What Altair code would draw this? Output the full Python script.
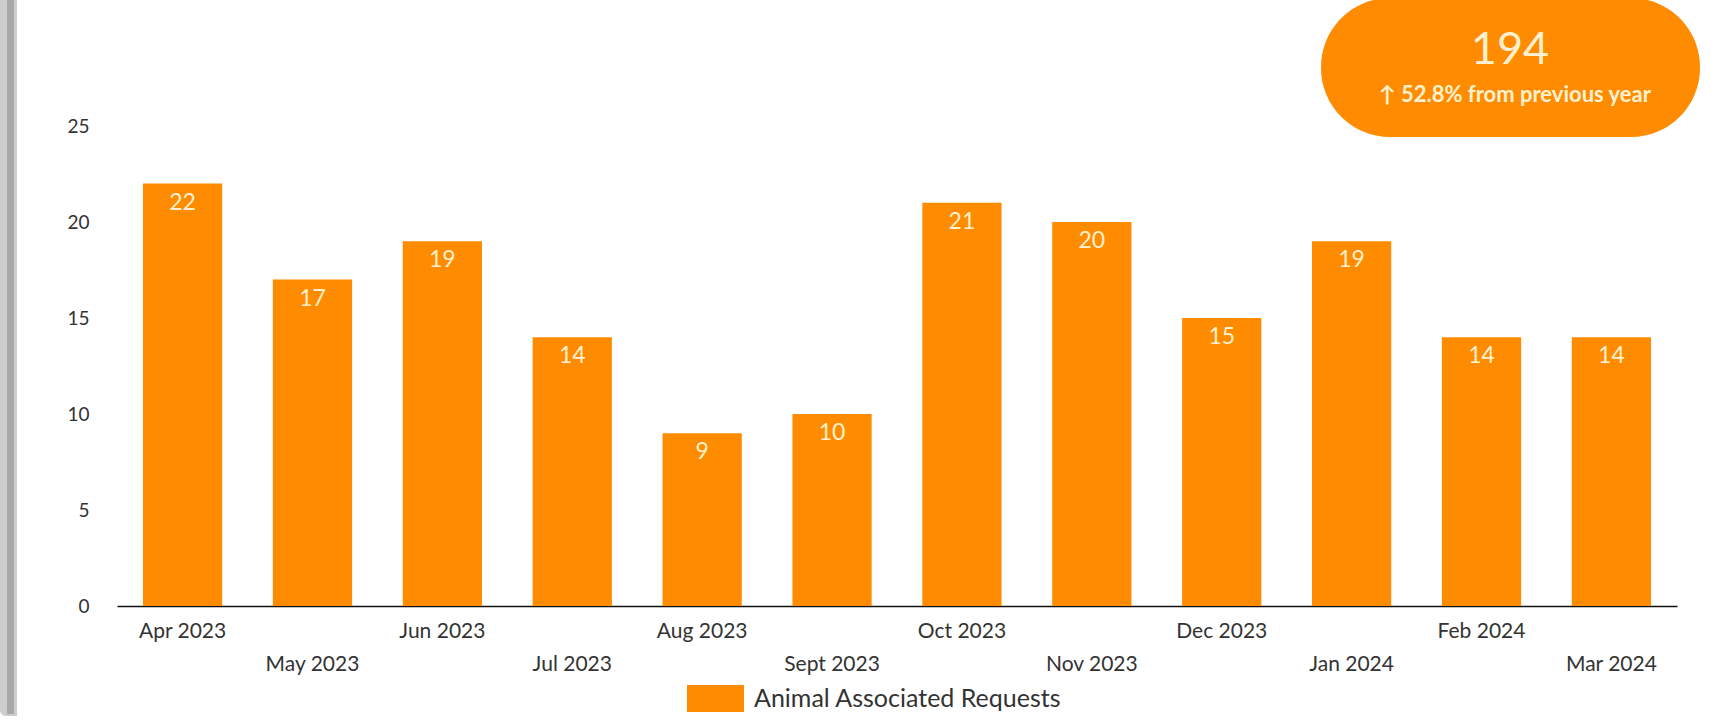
import altair as alt
import pandas as pd

months = ["Apr 2023", "May 2023", "Jun 2023", "Jul 2023", "Aug 2023", "Sept 2023",
          "Oct 2023", "Nov 2023", "Dec 2023", "Jan 2024", "Feb 2024", "Mar 2024"]
requests = [22, 17, 19, 14, 9, 10, 21, 20, 15, 19, 14, 14]
series_name = "Animal Associated Requests"
total_value = "194"
total_change = "↑ 52.8% from previous year"
y_ticks = [0, 5, 10, 15, 20, 25]

ORANGE = "#FF8C00"
CREAM = "#FFF1CF"
FONT = "Lato"

df = pd.DataFrame({
    "month": months,
    "requests": requests,
    "series": [series_name] * len(months),
    "row": [i % 2 for i in range(len(months))],
})

x_enc = alt.X("month:N", sort=months,
              scale=alt.Scale(paddingInner=0.39, paddingOuter=0.2),
              axis=alt.Axis(title=None, labels=False, ticks=False, domain=True,
                            domainColor="#111111", domainWidth=1.6, grid=False))
y_enc = alt.Y("requests:Q",
              scale=alt.Scale(domain=[0, 25], nice=False),
              axis=alt.Axis(title=None, values=y_ticks, ticks=False, domain=False, grid=False,
                            labelFontSize=19, labelColor="#333333", labelFont=FONT,
                            labelPadding=28))

base = alt.Chart(df)

bars = base.mark_bar().encode(
    x=x_enc,
    y=y_enc,
    color=alt.Color("series:N", scale=alt.Scale(range=[ORANGE]),
                    legend=alt.Legend(title=None, orient="none", legendX=570, legendY=544,
                                      symbolType="M-1,-0.474H1V0.474H-1Z", symbolSize=3249,
                                      symbolStrokeWidth=0, symbolOpacity=1,
                                      labelFontSize=25, labelFont=FONT, labelColor="#333333",
                                      labelOffset=10, labelLimit=0, padding=0)),
)

values = base.mark_text(baseline="middle", align="center", dy=19, fontSize=23,
                        font=FONT, color=CREAM).encode(
    x=alt.X("month:N", sort=months),
    y="requests:Q",
    text="requests:Q",
)

lab_even = base.transform_filter("datum.row == 0").mark_text(
    baseline="middle", align="center", fontSize=21, font=FONT, color="#333333"
).encode(x=alt.X("month:N", sort=months), y=alt.value(506), text="month:N")

lab_odd = base.transform_filter("datum.row == 1").mark_text(
    baseline="middle", align="center", fontSize=21, font=FONT, color="#333333"
).encode(x=alt.X("month:N", sort=months), y=alt.value(539), text="month:N")

deco = alt.Chart(pd.DataFrame({"big": [total_value], "small": [total_change]}))

frame_outer = deco.mark_rect(color="#cdcdcd", cornerRadiusBottomLeft=6).encode(
    x=alt.value(-117), x2=alt.value(-100), y=alt.value(-126), y2=alt.value(590))
frame_inner = deco.mark_rect(color="#a8a8a8").encode(
    x=alt.value(-110), x2=alt.value(-103), y=alt.value(-126), y2=alt.value(588))

pill = deco.mark_rect(color=ORANGE, cornerRadius=69).encode(
    x=alt.value(1204), x2=alt.value(1583), y=alt.value(-128), y2=alt.value(11))
pill_big = deco.mark_text(baseline="middle", align="center", fontSize=45, font=FONT,
                          color=CREAM).encode(
    x=alt.value(1393), y=alt.value(-76), text="big:N")
pill_small = deco.mark_text(baseline="middle", align="center", fontSize=22, font=FONT,
                            fontWeight="bold", color=CREAM).encode(
    x=alt.value(1398), y=alt.value(-31), text="small:N")

chart = alt.layer(
    frame_outer, frame_inner, bars, values, lab_even, lab_odd, pill, pill_big, pill_small
).properties(
    width=1560, height=480,
    autosize=alt.AutoSizeParams(type="none"),
    padding={"left": 117, "top": 126, "right": 45, "bottom": 116},
    background="white",
).configure_view(stroke=None)

chart.save("out.html", embed_options={"renderer": "svg", "actions": False})
